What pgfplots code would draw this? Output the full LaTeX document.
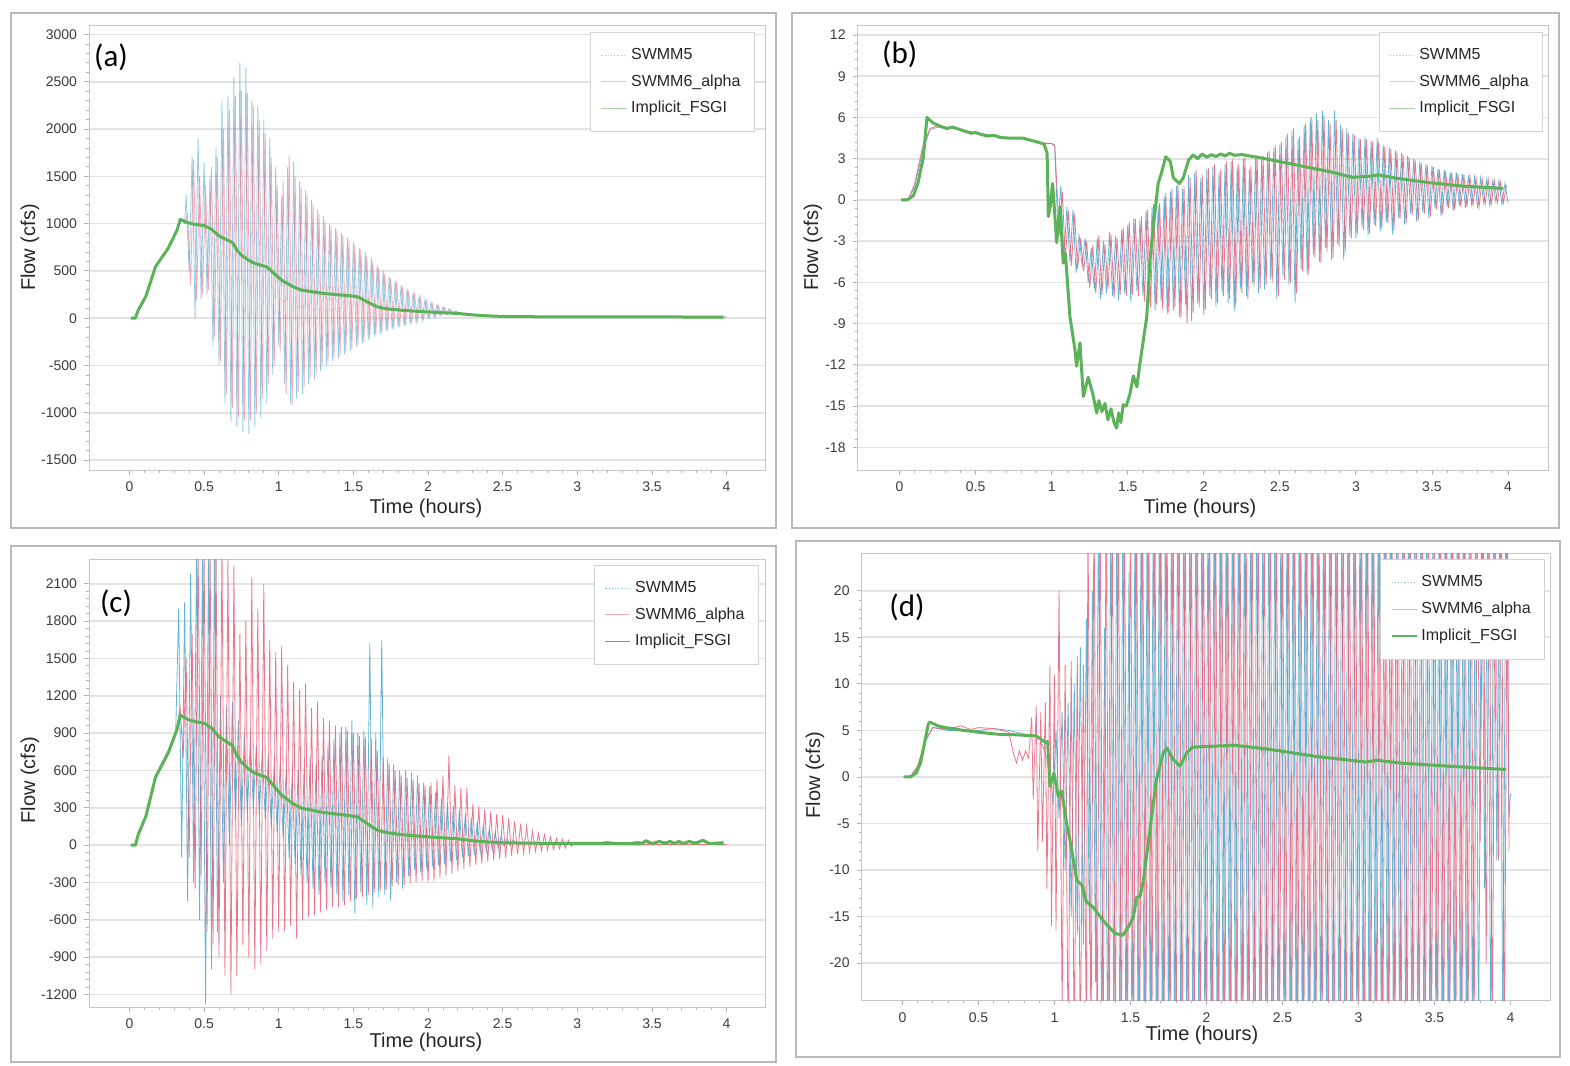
\documentclass[border=0pt]{standalone}
\usepackage{fontspec}
\setmainfont{Liberation Sans}
\newfontfamily\carlito{Carlito}
\usepackage{pgfplots}
\pgfplotsset{compat=1.18}
\definecolor{swblue}{RGB}{70,170,210}
\definecolor{swpink}{RGB}{235,95,120}
\definecolor{fsg}{RGB}{92,178,88}
\definecolor{tickgray}{RGB}{60,60,60}
\tikzset{plab/.style={font=\carlito\fontsize{15.5}{18}\selectfont}}
\pgfplotsset{
  panel/.style={
    scale only axis,
    axis line style={draw=gray!45},
    tickpos=left, tick align=outside,
    major tick length=2.5pt, minor tick length=1.5pt,
    tick style={gray!60, line width=0.4pt},
    minor x tick num=4, minor y tick num=4,
    ymajorgrids,
    major grid style={gray!22, line width=0.8pt},
    xtick={0,0.5,1,1.5,2,2.5,3,3.5,4},
    xticklabels={0,0.5,1,1.5,2,2.5,3,3.5,4},
    tick label style={font=\fontsize{7}{8}\selectfont, text=tickgray},
    /pgf/number format/assume math mode=true,
    /pgf/number format/1000 sep={},
    label style={font=\fontsize{10}{12}\selectfont, text=black!85},
    legend cell align=left,
    legend image code/.code={\draw[##1] (0pt,0pt) -- (12.5pt,0pt);},
    legend style={draw=gray!35, fill=white, font=\fontsize{8}{9.6}\selectfont,
      text=black!85, inner xsep=5pt, inner ysep=6pt, row sep=2pt, anchor=north east},
  },
  sw5/.style={swblue, line width=0.4pt},
  sw6/.style={swpink, line width=0.4pt},
  fsgi/.style={fsg, line width=1.5pt, line join=round},
}
\begin{document}
\begin{tikzpicture}
\useasboundingbox (0,0) rectangle (785pt,533pt);
\fill[white] (0,0) rectangle (785pt,533pt);
\draw[gray!55, line width=0.7pt] (5.5pt,269pt) rectangle (388pt,526.5pt);
\draw[gray!55, line width=0.7pt] (396pt,269pt) rectangle (779.5pt,526.5pt);
\draw[gray!55, line width=0.7pt] (5.5pt,2pt) rectangle (388pt,260pt);
\draw[gray!55, line width=0.7pt] (398pt,4.5pt) rectangle (780pt,262.5pt);

% ---------------- (a) ----------------
\begin{axis}[panel, at={(44.5pt,298pt)}, anchor=south west, width=338pt, height=222.5pt,
  xmin=-0.2706, xmax=4.257, ymin=-1605, ymax=3100, ytick={-1500,-1000,...,3000},
  xlabel={Time (hours)}, ylabel={Flow (cfs)},
  xlabel style={at={(axis description cs:0.4985,-0.0854)},anchor=center},
  ylabel style={at={(axis description cs:-0.0873,0.5)},anchor=center},
  legend style={at={(0.985,0.984)}}]
\addlegendimage{swblue!55, densely dotted, line width=0.6pt}\addlegendentry{SWMM5}
\addlegendimage{swpink!45, line width=0.5pt}\addlegendentry{SWMM6\_alpha}
\addlegendimage{fsg!55, line width=0.5pt}\addlegendentry{Implicit\_FSGI}
\addplot[sw5, opacity=0.6, forget plot] coordinates {
(0.01,0)(0.04,0)(0.06,90)(0.11,230)(0.175,546)(0.26,740)(0.32,934)(0.35,1040)(0.37,1000)
(0.38,1300)(0.40,500)(0.42,1700)(0.44,0)(0.46,1900)(0.48,200)(0.50,1650)(0.52,250)(0.54,1500)(0.56,-300)
(0.58,1800)(0.60,-500)(0.62,2300)(0.64,-900)(0.66,2350)(0.68,-1100)(0.70,2550)(0.72,-1150)(0.74,2700)(0.76,-1200)
(0.78,2650)(0.80,-1220)(0.82,2300)(0.84,-1150)(0.86,2250)(0.88,-1050)(0.90,2100)(0.92,-900)(0.94,1900)(0.96,-600)
(0.98,1600)(1.00,-300)(1.02,1300)(1.04,-700)(1.06,1600)(1.08,-900)(1.10,1650)(1.12,-850)(1.14,1450)(1.16,-800)
(1.18,1350)(1.20,-700)(1.22,1250)(1.24,-650)(1.26,1150)(1.28,-560)(1.30,1080)(1.32,-500)(1.34,1000)(1.36,-450)
(1.38,950)(1.40,-420)(1.42,900)(1.44,-380)(1.46,850)(1.48,-340)(1.50,800)(1.52,-300)(1.54,740)(1.56,-270)
(1.58,700)(1.60,-230)(1.62,640)(1.64,-200)(1.66,560)(1.68,-170)(1.70,500)(1.72,-140)(1.74,440)(1.76,-120)
(1.78,400)(1.80,-100)(1.82,350)(1.84,-80)(1.86,310)(1.88,-60)(1.90,270)(1.92,-40)(1.94,230)(1.96,-20)
(1.98,200)(2.00,0)(2.02,170)(2.04,10)(2.06,140)(2.08,25)(2.10,120)(2.12,35)(2.14,100)(2.16,45)(2.18,80)(2.20,55)
(2.3,40)(2.5,18)(3,14)(4,12)};
\addplot[sw6, opacity=0.55, forget plot] coordinates {
(0.01,0)(0.04,0)(0.06,90)(0.11,230)(0.175,546)(0.26,740)(0.32,934)(0.35,1040)(0.37,1000)
(0.39,1100)(0.41,350)(0.43,1680)(0.45,200)(0.47,1500)(0.49,250)(0.51,1400)(0.53,300)(0.55,1600)(0.57,-200)
(0.59,1700)(0.61,-450)(0.63,2000)(0.65,-800)(0.67,2200)(0.69,-950)(0.71,2350)(0.73,-1050)(0.75,2400)(0.77,-1080)
(0.79,2380)(0.81,-1080)(0.83,2250)(0.85,-1000)(0.87,2100)(0.89,-850)(0.91,1950)(0.93,-700)(0.95,1700)(0.97,-500)
(0.99,1400)(1.01,-350)(1.03,1450)(1.05,-800)(1.07,1720)(1.09,-920)(1.11,1500)(1.13,-780)(1.15,1380)(1.17,-720)
(1.19,1300)(1.21,-640)(1.23,1200)(1.25,-600)(1.27,1100)(1.29,-520)(1.31,1030)(1.33,-470)(1.35,980)(1.37,-430)
(1.39,930)(1.41,-400)(1.43,870)(1.45,-350)(1.47,820)(1.49,-320)(1.51,770)(1.53,-280)(1.55,720)(1.57,-250)
(1.59,660)(1.61,-210)(1.63,600)(1.65,-180)(1.67,530)(1.69,-150)(1.71,470)(1.73,-130)(1.75,420)(1.77,-110)
(1.79,380)(1.81,-90)(1.83,330)(1.85,-70)(1.87,290)(1.89,-50)(1.91,250)(1.93,-30)(1.95,210)(1.97,-10)
(1.99,180)(2.01,5)(2.03,150)(2.05,15)(2.07,130)(2.09,30)(2.11,110)(2.13,40)(2.15,90)(2.17,50)(2.19,70)(2.21,55)
(2.3,40)(2.5,18)(3,14)(4,12)};
\addplot[fsgi, forget plot] coordinates {
(0.01,0)(0.04,0)(0.06,88)(0.11,230)(0.175,546)(0.26,740)(0.32,934)(0.34,1044)(0.4,1005)(0.45,990)(0.5,980)
(0.55,940)(0.6,870)(0.67,815)(0.69,800)(0.72,720)(0.75,667)(0.8,610)(0.84,579)(0.92,543)(1.02,400)(1.1,330)
(1.15,297)(1.3,262)(1.48,236)(1.53,225)(1.57,192)(1.62,150)(1.66,120)(1.72,100)(1.82,85)(1.95,70)(2.08,60)
(2.2,50)(2.3,35)(2.4,25)(2.51,18)(2.8,14)(3.5,13)(3.98,12)};
\node[plab] at (axis description cs:0.0325,0.928) {(a)};
\end{axis}

% ---------------- (b) ----------------
\begin{axis}[panel, at={(428.8pt,298pt)}, anchor=south west, width=345.5pt, height=222.5pt,
  xmin=-0.276, xmax=4.267, ymin=-19.65, ymax=12.73, ytick={-18,-15,...,12},
  xlabel={Time (hours)}, ylabel={Flow (cfs)},
  xlabel style={at={(axis description cs:0.4955,-0.0854)},anchor=center},
  ylabel style={at={(axis description cs:-0.0645,0.5)},anchor=center},
  legend style={at={(0.992,0.984)}}]
\addlegendimage{swblue!55, densely dotted, line width=0.6pt}\addlegendentry{SWMM5}
\addlegendimage{swpink!45, line width=0.5pt}\addlegendentry{SWMM6\_alpha}
\addlegendimage{fsg!55, line width=0.5pt}\addlegendentry{Implicit\_FSGI}
\addplot[sw5, opacity=0.85, forget plot] coordinates {
(0.01,0)(0.06,0.1)(0.1,1.0)(0.15,3.5)(0.2,5.1)(0.25,5.3)(0.35,5.2)(0.5,4.9)(0.6,4.7)(0.7,4.5)(0.8,4.5)
(0.9,4.2)(0.95,4.1)(1.0,4.1)(1.02,3.9)(1.03,1.0)
(1.04,-2.0)(1.06,1.0)(1.08,-4.2)(1.10,-0.5)(1.12,-4.5)(1.14,-0.7)(1.16,-5.3)(1.18,-2.5)(1.20,-4.8)(1.22,-2.8)
(1.24,-6.0)(1.26,-3.5)(1.28,-6.5)(1.30,-2.8)(1.32,-7.2)(1.34,-3.0)(1.36,-6.8)(1.38,-2.3)(1.40,-7.0)(1.42,-2.6)
(1.44,-7.3)(1.46,-2.2)(1.48,-6.8)(1.50,-1.8)(1.52,-7.4)(1.54,-1.3)(1.56,-6.6)(1.58,-1.5)(1.60,-7.0)(1.62,-0.8)
(1.64,-7.6)(1.66,-0.5)(1.68,-8.0)(1.70,-0.4)(1.72,-7.4)(1.74,0.3)(1.76,-8.3)(1.78,0.6)(1.80,-8.0)(1.82,1.0)
(1.84,-8.5)(1.86,0.8)(1.88,-7.6)(1.90,1.8)(1.92,-8.8)(1.94,2.0)(1.96,-7.5)(1.98,1.6)(2.00,-8.4)(2.02,2.2)
(2.04,-7.0)(2.06,2.4)(2.08,-7.8)(2.10,2.0)(2.12,-6.8)(2.14,2.6)(2.16,-7.5)(2.18,2.8)(2.20,-8.1)(2.22,2.5)
(2.24,-6.5)(2.26,3.0)(2.28,-7.0)(2.30,2.2)(2.32,-6.0)(2.34,3.2)(2.36,-6.8)(2.38,3.0)(2.40,-6.5)(2.42,3.5)
(2.44,-5.8)(2.46,3.8)(2.48,-7.2)(2.50,4.0)(2.52,-5.5)(2.54,4.6)(2.56,-6.2)(2.58,5.0)(2.60,-7.5)(2.62,4.4)
(2.64,-5.0)(2.66,5.4)(2.68,-5.5)(2.70,6.0)(2.72,-4.0)(2.74,6.3)(2.76,-4.5)(2.78,6.5)(2.80,-3.5)(2.82,5.8)
(2.84,-4.4)(2.86,6.5)(2.88,-3.2)(2.90,5.5)(2.92,-4.4)(2.94,5.2)(2.96,-2.6)(2.98,4.8)(3.00,-2.8)(3.02,4.5)
(3.04,-2.0)(3.06,4.6)(3.08,-2.6)(3.10,4.3)(3.12,-1.8)(3.14,4.5)(3.16,-2.3)(3.18,4.0)(3.20,-1.6)(3.22,3.8)
(3.24,-2.5)(3.26,3.6)(3.28,-1.3)(3.30,3.4)(3.32,-1.8)(3.34,3.2)(3.36,-1.0)(3.38,3.0)(3.40,-1.6)(3.42,2.8)
(3.44,-0.9)(3.46,2.6)(3.48,-1.3)(3.50,2.5)(3.52,-0.6)(3.54,2.3)(3.56,-1.2)(3.58,2.2)(3.60,-0.5)(3.62,2.0)
(3.64,-0.8)(3.66,2.0)(3.68,-0.4)(3.70,1.9)(3.72,-0.6)(3.74,1.8)(3.76,-0.3)(3.78,1.7)(3.80,-0.6)(3.82,1.6)
(3.84,-0.2)(3.86,1.5)(3.88,-0.4)(3.90,1.4)(3.92,-0.1)(3.94,1.4)(3.96,-0.3)(3.98,1.2)(4.00,-0.2)};
\addplot[sw6, opacity=0.85, forget plot] coordinates {
(0.01,0)(0.06,0.1)(0.1,1.2)(0.15,3.8)(0.2,5.2)(0.25,5.4)(0.35,5.2)(0.5,4.9)(0.6,4.7)(0.7,4.5)(0.8,4.5)
(0.9,4.2)(1.0,4.1)(1.02,4.0)(1.035,0.8)
(1.05,-2.5)(1.07,0.6)(1.09,-4.4)(1.11,-0.8)(1.13,-4.8)(1.15,-1.0)(1.17,-5.0)(1.19,-2.8)(1.21,-5.2)(1.23,-3.0)
(1.25,-6.4)(1.27,-3.3)(1.29,-6.8)(1.31,-2.6)(1.33,-6.9)(1.35,-3.2)(1.37,-6.5)(1.39,-2.5)(1.41,-7.1)(1.43,-2.8)
(1.45,-6.9)(1.47,-2.0)(1.49,-7.0)(1.51,-1.6)(1.53,-6.9)(1.55,-1.4)(1.57,-7.0)(1.59,-1.2)(1.61,-7.4)(1.63,-0.7)
(1.65,-7.8)(1.67,-0.3)(1.69,-7.6)(1.71,-0.2)(1.73,-8.0)(1.75,0.5)(1.77,-8.2)(1.79,0.8)(1.81,-7.8)(1.83,1.2)
(1.85,-8.6)(1.87,1.0)(1.89,-9.0)(1.91,1.6)(1.93,-8.2)(1.95,2.2)(1.97,-7.8)(1.99,1.8)(2.01,-8.0)(2.03,2.3)
(2.05,-7.2)(2.07,2.6)(2.09,-7.5)(2.11,2.2)(2.13,-7.0)(2.15,2.8)(2.17,-7.2)(2.19,3.0)(2.21,-7.8)(2.23,2.6)
(2.25,-6.8)(2.27,3.1)(2.29,-7.2)(2.31,2.5)(2.33,-6.3)(2.35,3.3)(2.37,-6.5)(2.39,3.2)(2.41,-6.2)(2.43,3.6)
(2.45,-6.0)(2.47,4.0)(2.49,-7.0)(2.51,4.2)(2.53,-5.8)(2.55,4.8)(2.57,-6.0)(2.59,5.2)(2.61,-6.8)(2.63,4.6)
(2.65,-5.2)(2.67,5.6)(2.69,-5.4)(2.71,6.0)(2.73,-4.2)(2.75,5.8)(2.77,-4.6)(2.79,6.2)(2.81,-3.8)(2.83,5.6)
(2.85,-4.2)(2.87,5.8)(2.89,-3.4)(2.91,5.2)(2.93,-3.8)(2.95,4.9)(2.97,-2.8)(2.99,4.7)(3.01,-2.5)(3.03,4.4)
(3.05,-2.2)(3.07,4.4)(3.09,-2.4)(3.11,4.2)(3.13,-1.9)(3.15,4.3)(3.17,-2.1)(3.19,3.9)(3.21,-1.7)(3.23,3.7)
(3.25,-2.2)(3.27,3.5)(3.29,-1.4)(3.31,3.3)(3.33,-1.7)(3.35,3.1)(3.37,-1.1)(3.39,2.9)(3.41,-1.5)(3.43,2.7)
(3.45,-1.0)(3.47,2.5)(3.49,-1.2)(3.51,2.4)(3.53,-0.7)(3.55,2.2)(3.57,-1.0)(3.59,2.1)(3.61,-0.6)(3.63,2.0)
(3.65,-0.7)(3.67,1.9)(3.69,-0.5)(3.71,1.8)(3.73,-0.5)(3.75,1.7)(3.77,-0.4)(3.79,1.6)(3.81,-0.5)(3.83,1.5)
(3.85,-0.3)(3.87,1.5)(3.89,-0.3)(3.91,1.4)(3.93,-0.2)(3.95,1.3)(3.97,-0.2)(3.99,1.1)};
\addplot[fsgi, forget plot] coordinates {
(0.01,0)(0.05,0)(0.09,0.3)(0.12,1.2)(0.156,3.1)(0.18,6.0)(0.22,5.6)(0.27,5.35)(0.31,5.2)(0.35,5.3)(0.39,5.15)
(0.43,5.0)(0.47,4.85)(0.5,4.9)(0.54,4.75)(0.58,4.65)(0.62,4.7)(0.66,4.55)(0.72,4.5)(0.81,4.5)(0.86,4.35)
(0.91,4.2)(0.95,4.05)(0.97,3.4)(0.978,-1.2)(0.99,-0.5)(1.006,1.2)(1.02,-1.0)(1.033,-3.1)(1.055,-0.5)
(1.076,-4.6)(1.09,-3.9)(1.12,-8.5)(1.153,-10.9)(1.164,-12.1)(1.186,-10.4)(1.208,-14.3)(1.24,-12.9)
(1.27,-14.1)(1.296,-15.5)(1.31,-14.6)(1.33,-15.4)(1.35,-14.8)(1.37,-16.0)(1.39,-15.2)(1.41,-16.2)
(1.427,-16.6)(1.44,-15.5)(1.455,-16.2)(1.47,-14.9)(1.49,-15.0)(1.515,-14.1)(1.537,-12.8)(1.56,-13.6)
(1.58,-11.9)(1.60,-10.4)(1.625,-8.5)(1.646,-4.4)(1.668,-1.95)(1.70,1.2)(1.72,1.9)(1.75,3.14)(1.78,2.8)
(1.80,1.6)(1.84,1.2)(1.865,1.6)(1.90,2.9)(1.93,3.27)(1.96,3.0)(1.99,3.35)(2.02,3.1)(2.05,3.3)(2.08,3.15)
(2.11,3.35)(2.14,3.2)(2.17,3.4)(2.2,3.25)(2.25,3.3)(2.39,3.03)(2.61,2.54)(2.83,2.05)(2.98,1.64)(3.09,1.73)
(3.15,1.82)(3.27,1.57)(3.49,1.25)(3.71,1.0)(3.97,0.84)};
\node[plab] at (axis description cs:0.061,0.933) {(b)};
\end{axis}

% ---------------- (c) ----------------
\begin{axis}[panel, at={(44.5pt,29.5pt)}, anchor=south west, width=338pt, height=223.75pt,
  xmin=-0.2706, xmax=4.257, ymin=-1301, ymax=2295, ytick={-1200,-900,...,2100},
  xlabel={Time (hours)}, ylabel={Flow (cfs)},
  xlabel style={at={(axis description cs:0.4985,-0.078)},anchor=center},
  ylabel style={at={(axis description cs:-0.0873,0.507)},anchor=center},
  legend style={at={(0.991,0.988)}}]
\addlegendimage{swblue!70, densely dotted, line width=0.6pt}\addlegendentry{SWMM5}
\addlegendimage{swpink!55, line width=0.5pt}\addlegendentry{SWMM6\_alpha}
\addlegendimage{fsg, line width=0.8pt}\addlegendentry{Implicit\_FSGI}
\addplot[sw5, opacity=0.85, forget plot] coordinates {
(0.01,0)(0.04,0)(0.06,90)(0.11,230)(0.175,560)(0.26,760)(0.31,900)
(0.33,1900)(0.35,-100)(0.37,1950)(0.39,-450)(0.41,2180)(0.43,-300)(0.45,2400)(0.47,-600)(0.49,2400)(0.51,-1280)
(0.53,2400)(0.55,-1000)(0.57,2400)(0.59,-700)(0.61,1200)(0.63,-300)(0.65,1100)(0.67,0)(0.69,1150)(0.71,200)
(0.73,1000)(0.75,150)(0.77,900)(0.79,250)(0.81,850)(0.83,300)(0.85,800)(0.87,250)(0.89,750)(0.91,200)
(0.93,700)(0.95,150)(0.97,650)(0.99,100)(1.01,650)(1.03,50)(1.05,600)(1.07,-100)(1.09,550)(1.11,-150)
(1.13,600)(1.15,-250)(1.17,620)(1.19,-300)(1.21,700)(1.23,-350)(1.25,650)(1.27,-400)(1.29,720)(1.31,-300)
(1.33,800)(1.35,-350)(1.37,850)(1.39,-400)(1.41,900)(1.43,-450)(1.45,950)(1.47,-400)(1.49,1000)(1.51,-550)
(1.53,900)(1.55,-380)(1.57,920)(1.59,-480)(1.61,1620)(1.63,-500)(1.65,900)(1.67,-420)(1.69,1650)(1.71,-400)
(1.73,700)(1.75,-450)(1.77,650)(1.79,-300)(1.81,600)(1.83,-350)(1.85,600)(1.87,-250)(1.89,580)(1.91,-200)
(1.93,560)(1.95,-220)(1.97,500)(1.99,-180)(2.01,470)(2.03,-170)(2.05,420)(2.07,-160)(2.09,380)(2.11,-150)
(2.13,340)(2.15,-130)(2.17,310)(2.19,-120)(2.21,280)(2.23,-100)(2.25,250)(2.27,-90)(2.29,220)(2.31,-80)
(2.33,190)(2.35,-60)(2.37,160)(2.39,-50)(2.41,130)(2.43,-40)(2.45,100)(2.47,-30)(2.49,70)(2.51,-10)
(2.53,50)(2.55,0)(2.57,40)(2.6,10)(2.7,20)(3.0,20)(3.1,10)(3.2,30)(3.3,10)(3.4,30)(3.5,10)(3.6,30)(3.7,15)
(3.8,30)(3.9,20)(3.98,30)};
\addplot[sw6, opacity=0.85, forget plot] coordinates {
(0.01,0)(0.04,0)(0.06,90)(0.11,230)(0.175,560)(0.26,760)(0.32,940)
(0.34,1100)(0.36,700)(0.38,1500)(0.40,-100)(0.42,1700)(0.44,-350)(0.46,2400)(0.48,-250)(0.50,2400)(0.52,-700)
(0.54,2400)(0.56,-800)(0.58,2400)(0.60,-900)(0.62,2400)(0.64,-1050)(0.66,2300)(0.68,-1200)(0.70,2250)(0.72,-1050)
(0.74,1700)(0.76,-800)(0.78,1800)(0.80,-900)(0.82,2150)(0.84,-1000)(0.86,1900)(0.88,-950)(0.90,2100)(0.92,-850)
(0.94,1650)(0.96,-750)(0.98,1550)(1.00,-700)(1.02,1600)(1.04,-700)(1.06,1450)(1.08,-650)(1.10,1310)(1.12,-750)
(1.14,1250)(1.16,-600)(1.18,1300)(1.20,-580)(1.22,1100)(1.24,-560)(1.26,1150)(1.28,-540)(1.30,1020)(1.32,-520)
(1.34,1000)(1.36,-500)(1.38,960)(1.40,-500)(1.42,950)(1.44,-480)(1.46,920)(1.48,-450)(1.50,900)(1.52,-430)
(1.54,880)(1.56,-420)(1.58,870)(1.60,-400)(1.62,850)(1.64,-380)(1.66,760)(1.68,-370)(1.70,700)(1.72,-360)
(1.74,650)(1.76,-330)(1.78,600)(1.80,-320)(1.82,560)(1.84,-320)(1.86,540)(1.88,-310)(1.90,520)(1.92,-300)
(1.94,500)(1.96,-290)(1.98,480)(2.00,-300)(2.02,500)(2.04,-290)(2.06,530)(2.08,-260)(2.10,560)(2.12,-245)
(2.14,720)(2.16,-230)(2.18,480)(2.20,-210)(2.22,460)(2.24,-190)(2.26,460)(2.28,-175)(2.30,330)(2.32,-160)
(2.34,310)(2.36,-150)(2.38,290)(2.40,-135)(2.42,270)(2.44,-120)(2.46,250)(2.48,-110)(2.50,240)(2.52,-100)
(2.54,215)(2.56,-85)(2.58,190)(2.60,-75)(2.62,170)(2.64,-65)(2.66,150)(2.68,-55)(2.70,110)(2.72,-50)
(2.74,95)(2.76,-45)(2.78,85)(2.80,-40)(2.82,70)(2.84,-35)(2.86,55)(2.88,-30)(2.90,50)(2.92,-25)
(2.94,40)(2.96,-10)(2.98,20)(3.00,5)(3.5,5)(4.0,5)};
\addplot[fsgi, forget plot] coordinates {
(0.01,0)(0.04,0)(0.06,88)(0.11,230)(0.175,546)(0.26,740)(0.32,934)(0.34,1044)(0.4,1005)(0.45,990)(0.5,980)
(0.55,940)(0.6,870)(0.67,815)(0.69,800)(0.72,720)(0.75,667)(0.8,610)(0.84,579)(0.92,543)(1.02,400)(1.1,330)
(1.15,297)(1.3,262)(1.48,236)(1.53,225)(1.57,192)(1.62,150)(1.66,120)(1.72,100)(1.82,85)(1.95,70)(2.08,60)
(2.2,50)(2.3,35)(2.4,25)(2.51,18)(2.8,14)(3.0,14)(3.43,12)(3.46,35)(3.5,12)(3.55,30)(3.59,12)(3.62,30)(3.65,12)
(3.68,30)(3.71,12)(3.75,30)(3.79,12)(3.84,40)(3.88,14)(3.98,12)};
\node[plab] at (axis description cs:0.04,0.903) {(c)};
\end{axis}

% ---------------- (d) ----------------
\begin{axis}[panel, at={(430.8pt,32.8pt)}, anchor=south west, width=344.2pt, height=223.45pt,
  xmin=-0.269, xmax=4.26, ymin=-24, ymax=24, ytick={-20,-15,...,20},
  xlabel={Time (hours)}, ylabel={Flow (cfs)},
  xlabel style={at={(axis description cs:0.4945,-0.0774)},anchor=center},
  ylabel style={at={(axis description cs:-0.0677,0.504)},anchor=center},
  legend style={at={(0.993,0.987)}}]
\addlegendimage{swblue!70, densely dotted, line width=0.6pt}\addlegendentry{SWMM5}
\addlegendimage{swpink!55, line width=0.5pt}\addlegendentry{SWMM6\_alpha}
\addlegendimage{fsg, line width=0.8pt}\addlegendentry{Implicit\_FSGI}
\addplot[sw5, opacity=0.85, forget plot] coordinates {
(0.007,0)(0.05,0)(0.1,1.0)(0.15,3.8)(0.2,5.3)(0.3,5.0)(0.4,5.0)(0.5,5.0)(0.6,5.2)(0.7,5.0)(0.8,4.6)(0.86,4.5)
(0.9,4.2)(0.93,3.0)(0.95,2.0)(0.97,1.0)
(0.99,-3)(1.01,5)(1.03,-4.5)(1.05,7)(1.07,-10)(1.09,8)(1.11,-15)(1.13,10)(1.15,-17)(1.17,14)(1.19,-18)(1.21,17)
(1.23,-18)(1.25,20)(1.27,-22)(1.29,30)(1.31,-30)(1.33,16)(1.35,-30)(1.37,30)(1.39,-28)(1.41,30)(1.43,-30)
(1.45,30)(1.47,-30)(1.49,22)(1.51,-30)(1.53,30)(1.55,-30)(1.57,30)(1.59,-30)(1.61,30)(1.63,-30)(1.65,30)
(1.67,-30)(1.69,30)(1.71,-30)(1.73,30)(1.75,-30)(1.77,30)(1.79,-30)(1.81,30)(1.83,-30)(1.85,30)(1.87,-30)
(1.89,30)(1.91,-30)(1.93,30)(1.95,-30)(1.97,30)(1.99,-30)
(2.01,30)(2.03,-30)(2.05,30)(2.07,-30)(2.09,30)(2.11,-30)(2.13,30)(2.15,-30)(2.17,30)(2.19,-30)(2.21,30)
(2.23,-30)(2.25,30)(2.27,-30)(2.29,30)(2.31,-30)(2.33,30)(2.35,-30)(2.37,30)(2.39,-30)(2.41,30)(2.43,-30)
(2.45,30)(2.47,-30)(2.49,30)(2.51,-30)(2.53,30)(2.55,-30)(2.57,30)(2.59,-30)(2.61,30)(2.63,-30)(2.65,30)
(2.67,-30)(2.69,30)(2.71,-30)(2.73,30)(2.75,-30)(2.77,30)(2.79,-30)(2.81,30)(2.83,-30)(2.85,30)(2.87,-30)
(2.89,30)(2.91,-30)(2.93,30)(2.95,-30)(2.97,30)(2.99,-30)
(3.01,30)(3.03,-30)(3.05,30)(3.07,-30)(3.09,30)(3.11,-30)(3.13,30)(3.15,-30)(3.17,30)(3.19,-30)(3.21,30)
(3.23,-30)(3.25,30)(3.27,-30)(3.29,30)(3.31,-30)(3.33,30)(3.35,-30)(3.37,30)(3.39,-30)(3.41,30)(3.43,-30)
(3.45,30)(3.47,-30)(3.49,30)(3.51,-30)(3.53,30)(3.55,-30)(3.57,30)(3.59,-30)(3.61,30)(3.63,-30)(3.65,30)
(3.67,-30)(3.69,30)(3.71,-30)(3.73,30)(3.75,-30)(3.77,30)(3.79,-30)(3.81,30)(3.83,-12)(3.85,30)(3.87,-30)
(3.89,30)(3.91,-9)(3.93,30)(3.95,-30)(3.97,30)(3.99,-4.5)(4.0,-1.8)};
\addplot[sw6, opacity=0.85, forget plot] coordinates {
(0.007,0)(0.05,0)(0.1,1.2)(0.15,4.0)(0.2,5.3)(0.3,5.1)(0.38,5.5)(0.45,5.1)(0.5,5.3)(0.6,5.2)(0.7,4.8)
(0.73,2.5)(0.75,1.5)(0.77,2.8)(0.79,1.8)(0.81,2.8)(0.83,2.0)
(0.85,6.4)(0.86,-2.4)(0.88,7.6)(0.89,-8)(0.91,7)(0.92,-7)(0.94,8)(0.95,-12)(0.97,12)(0.98,-16)(1.00,11)
(1.01,-16.5)(1.03,20)(1.05,-25)(1.07,12)(1.09,-30)(1.11,12.5)(1.13,-30)(1.15,13)(1.17,-30)(1.19,12)(1.21,-30)
(1.22,30)(1.24,-30)(1.26,30)(1.28,-30)(1.30,30)(1.32,-30)(1.34,30)(1.36,-30)(1.38,30)(1.40,-30)(1.42,30)
(1.44,-30)(1.46,30)(1.48,-30)(1.50,30)(1.52,-30)(1.54,30)(1.56,-30)(1.58,30)(1.60,-30)(1.62,30)(1.64,-30)
(1.66,30)(1.68,-30)(1.70,30)(1.72,-30)(1.74,30)(1.76,-30)(1.78,30)(1.80,-30)(1.82,30)(1.84,-30)(1.86,30)
(1.88,-30)(1.90,30)(1.92,-30)(1.94,30)(1.96,-30)(1.98,30)
(2.00,-30)(2.02,30)(2.04,-30)(2.06,30)(2.08,-30)(2.10,30)(2.12,-30)(2.14,30)(2.16,-30)(2.18,30)(2.20,-30)
(2.22,30)(2.24,-30)(2.26,30)(2.28,-30)(2.30,30)(2.32,-30)(2.34,30)(2.36,-30)(2.38,30)(2.40,-30)(2.42,30)
(2.44,-30)(2.46,30)(2.48,-30)(2.50,30)(2.52,-30)(2.54,30)(2.56,-30)(2.58,30)(2.60,-30)(2.62,30)(2.64,-30)
(2.66,30)(2.68,-30)(2.70,30)(2.72,-30)(2.74,30)(2.76,-30)(2.78,30)(2.80,-30)(2.82,30)(2.84,-30)(2.86,30)
(2.88,-30)(2.90,30)(2.92,-30)(2.94,30)(2.96,-30)(2.98,30)
(3.00,-30)(3.02,30)(3.04,-30)(3.06,30)(3.08,-30)(3.10,30)(3.12,-30)(3.14,30)(3.16,-30)(3.18,30)(3.20,-30)
(3.22,30)(3.24,-30)(3.26,30)(3.28,-30)(3.30,30)(3.32,-30)(3.34,30)(3.36,-30)(3.38,30)(3.40,-30)(3.42,30)
(3.44,-30)(3.46,30)(3.48,-30)(3.50,30)(3.52,-30)(3.54,30)(3.56,-30)(3.58,30)(3.60,-30)(3.62,30)(3.64,-30)
(3.66,30)(3.68,-30)(3.70,30)(3.72,-30)(3.74,30)(3.76,-30)(3.78,30)(3.80,-7)(3.82,30)(3.84,-20)(3.86,30)
(3.88,-30)(3.90,30)(3.92,-9)(3.94,30)(3.96,-30)(3.98,30)(3.99,-8)};
\addplot[fsgi, forget plot] coordinates {
(0.007,0)(0.05,0)(0.09,0.4)(0.12,1.6)(0.17,5.7)(0.18,5.9)(0.23,5.5)(0.28,5.3)(0.33,5.2)(0.4,5.0)(0.46,4.9)
(0.5,4.8)(0.56,4.7)(0.64,4.57)(0.72,4.55)(0.88,4.4)(0.915,4.0)(0.94,3.7)(0.955,3.8)(0.97,-1.0)(0.996,0.4)
(1.025,-2.1)(1.047,-1.5)(1.08,-5.0)(1.11,-7.5)(1.146,-11.1)(1.18,-11.6)(1.21,-13.4)(1.255,-14.0)(1.3,-15.0)
(1.34,-15.8)(1.398,-16.8)(1.45,-17.0)(1.486,-16.1)(1.52,-15.0)(1.54,-12.9)(1.562,-12.9)(1.585,-11.1)
(1.628,-5.7)(1.67,-0.3)(1.716,2.6)(1.74,3.1)(1.78,1.9)(1.825,1.15)(1.87,2.6)(1.91,3.2)(2.18,3.4)(2.4,3.0)
(2.72,2.2)(3.05,1.6)(3.12,1.8)(3.27,1.5)(3.6,1.15)(3.97,0.8)};
\node[plab] at (axis description cs:0.066,0.88) {(d)};
\end{axis}
\end{tikzpicture}
\end{document}
